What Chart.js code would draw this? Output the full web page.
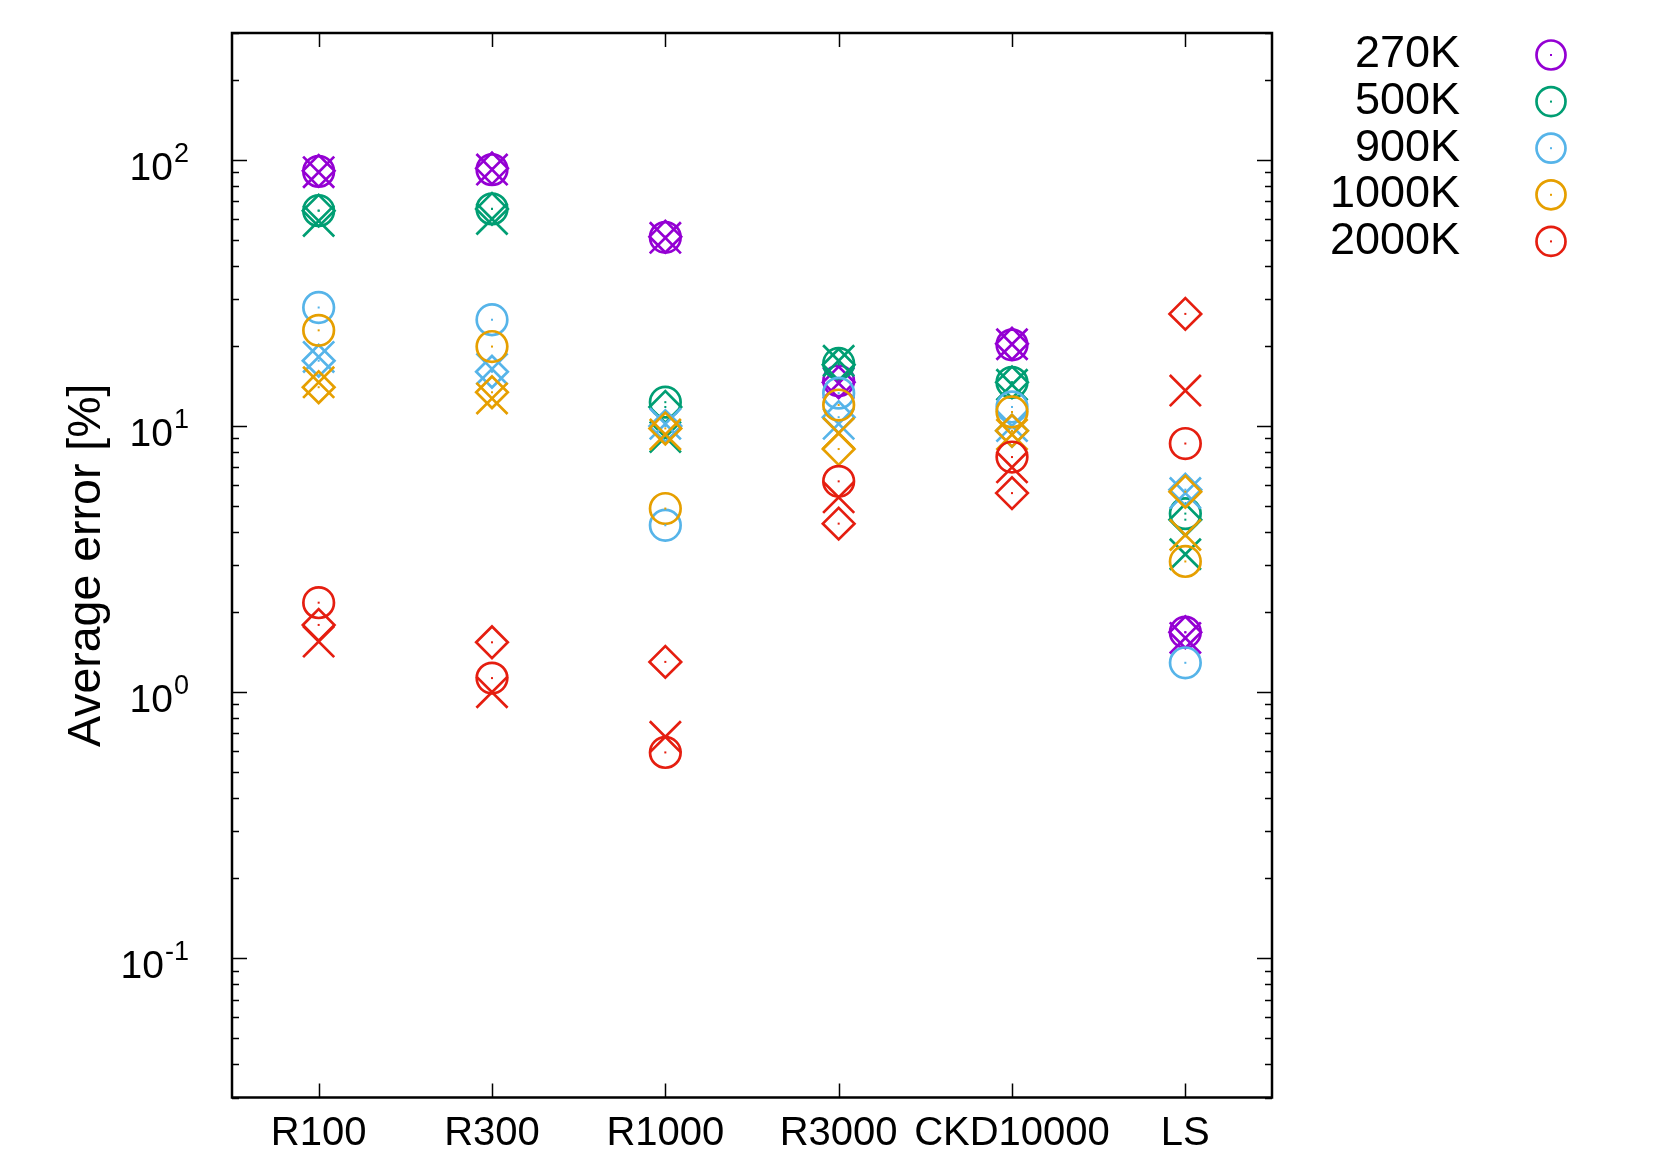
<!DOCTYPE html>
<html>
<head>
<meta charset="utf-8">
<title>Average error</title>
<script src="https://cdn.jsdelivr.net/npm/chart.js@4.4.1/dist/chart.umd.min.js"></script>
<style>
  html, body { margin: 0; padding: 0; background: #fff; }
  canvas { display: block; }
</style>
</head>
<body>
<canvas id="errorChart" width="1661" height="1163"></canvas>
<script>
const categories = ["R100", "R300", "R1000", "R3000", "CKD10000", "LS"]
const temperatures = ["270K", "500K", "900K", "1000K", "2000K"]
const colors = ["#9400d3", "#009e73", "#56b4e9", "#e69f00", "#e51e10"]
const yTickValues = [0.1, 1, 10, 100]
const yTickExponents = ["-1", "0", "1", "2"]

// open circles (these are the ones in the key)
const circle270 = [90.6, 92, 51.2, 14.8, 20.2, 1.68]
const circle500 = [64.5, 65.5, 12.3, 17.2, 14.6, 4.69]
const circle900 = [27.9, 25.1, 4.24, 13.3, 11.8, 1.29]
const circle1000 = [22.9, 19.9, 4.9, 12.0, 11.3, 3.1]
const circle2000 = [2.17, 1.13, 0.594, 6.2, 7.65, 8.6]

// crosses
const cross270 = [90, 92, 51, 14.5, 20.3, 1.6]
const cross500 = [59, 60, 9.1, 17.6, 14.3, 3.3]
const cross900 = [18.2, 16.4, 10.2, 10.2, 10.0, 5.6]
const cross1000 = [14.6, 12.7, 9.3, 9.4, 9.3, 3.9]
const cross2000 = [1.55, 1.0, 0.68, 5.4, 7.0, 13.6]

// diamonds
const diamond270 = [91, 93, 51.5, 14.6, 20.4, 1.68]
const diamond500 = [64.5, 65.5, 11.8, 17.0, 14.6, 4.45]
const diamond900 = [17.6, 16.0, 10.0, 10.8, 9.6, 5.77]
const diamond1000 = [14.0, 13.4, 9.8, 8.2, 9.6, 5.67]
const diamond2000 = [1.79, 1.54, 1.3, 4.3, 5.6, 26.4]

const circleSeries = [circle270, circle500, circle900, circle1000, circle2000]
const crossSeries = [cross270, cross500, cross900, cross1000, cross2000]
const diamondSeries = [diamond270, diamond500, diamond900, diamond1000, diamond2000]

const FONT = "'Liberation Sans', Arial, Helvetica, sans-serif"
const LINE = 2.7

function makeDataset(values, i, style, radius, label) {
  return {
    label,
    data: values,
    showLine: false,
    borderColor: colors[i],
    backgroundColor: "transparent",
    pointStyle: style,
    pointRadius: radius,
    pointHoverRadius: radius,
    pointBorderWidth: LINE,
    pointHoverBorderWidth: LINE,
    pointBorderColor: colors[i],
    pointBackgroundColor: "transparent",
  }
}

const datasets = []
temperatures.forEach((t, i) => {
  datasets.push(makeDataset(circleSeries[i], i, "circle", 15.3, t))
  datasets.push(makeDataset(crossSeries[i], i, "crossRot", 22, t + " x"))
  datasets.push(makeDataset(diamondSeries[i], i, "rectRot", 15.8, t + " d"))
})
// later series on top, as in the original plot
datasets.forEach((d, i) => { d.order = -i })

// small dot in the middle of circles and diamonds
const centreDots = {
  id: "centreDots",
  afterDatasetsDraw(chart) {
    const ctx = chart.ctx
    ctx.save()
    chart.data.datasets.forEach((ds, i) => {
      if (ds.pointStyle === "crossRot") return
      ctx.fillStyle = ds.borderColor
      chart.getDatasetMeta(i).data.forEach((pt) => {
        ctx.fillRect(pt.x - 1, pt.y - 1, 2, 2)
      })
    })
    ctx.restore()
  },
}

// gnuplot style frame with inward ticks on all four sides
const frameAndTicks = {
  id: "frameAndTicks",
  afterDatasetsDraw(chart) {
    const { ctx, chartArea: a, scales } = chart
    const y = scales.y
    const x = scales.x
    ctx.save()
    ctx.strokeStyle = "#000"
    ctx.lineWidth = 1.5
    ctx.beginPath()
    for (let d = -2; d <= 2; d++) {
      for (let m = 1; m <= 9; m++) {
        const v = m * Math.pow(10, d)
        if (v < y.min * 0.999 || v > y.max * 1.001) continue
        const py = Math.round(y.getPixelForValue(v)) + 0.5
        const len = m === 1 ? 15 : 7
        ctx.moveTo(a.left, py)
        ctx.lineTo(a.left + len, py)
        ctx.moveTo(a.right, py)
        ctx.lineTo(a.right - len, py)
      }
    }
    categories.forEach((c, i) => {
      const px = Math.round(x.getPixelForValue(i)) + 0.5
      ctx.moveTo(px, a.bottom)
      ctx.lineTo(px, a.bottom - 14)
      ctx.moveTo(px, a.top)
      ctx.lineTo(px, a.top + 14)
    })
    ctx.stroke()
    ctx.lineWidth = 2.5
    ctx.strokeRect(a.left, a.top, a.right - a.left, a.bottom - a.top)

    // y tick labels as 10 with a raised exponent
    ctx.fillStyle = "#000"
    ctx.textAlign = "left"
    ctx.textBaseline = "alphabetic"
    yTickValues.forEach((v, k) => {
      const py = y.getPixelForValue(v)
      const exp = yTickExponents[k]
      ctx.font = "39px " + FONT
      const wBase = ctx.measureText("10").width
      ctx.font = "27px " + FONT
      const wExp = ctx.measureText(exp).width
      const x0 = 189 - wBase - wExp - 1
      ctx.font = "39px " + FONT
      ctx.fillText("10", x0, py + 20)
      ctx.font = "27px " + FONT
      ctx.fillText(exp, x0 + wBase + 1, py + 2)
    })
    ctx.restore()
  },
}

// key outside the plot, right aligned text then the marker
const keyBox = {
  id: "keyBox",
  afterDraw(chart) {
    const ctx = chart.ctx
    const entries = chart.data.datasets.filter((d) => d.pointStyle === "circle")
    ctx.save()
    ctx.font = "45px " + FONT
    ctx.textAlign = "right"
    ctx.textBaseline = "middle"
    entries.forEach((d, i) => {
      const yy = 55 + i * 46.6
      ctx.fillStyle = "#000"
      ctx.fillText(d.label, 1460, yy)
      ctx.strokeStyle = d.borderColor
      ctx.lineWidth = LINE
      ctx.beginPath()
      ctx.arc(1551, yy, 14.5, 0, 2 * Math.PI)
      ctx.stroke()
      ctx.fillStyle = d.borderColor
      ctx.fillRect(1550, yy - 1, 2, 2)
    })
    ctx.restore()
  },
}

new Chart(document.getElementById("errorChart"), {
  type: "line",
  data: { labels: categories, datasets },
  options: {
    responsive: false,
    animation: false,
    devicePixelRatio: 1,
    layout: { padding: { left: 0, right: 389, top: 33, bottom: 0 } },
    plugins: {
      legend: { display: false },
      tooltip: { enabled: false },
    },
    scales: {
      x: {
        type: "category",
        offset: true,
        grid: { display: false, drawTicks: false },
        border: { display: false },
        afterFit: (scale) => {
          scale.height = 65.5
          scale.paddingLeft = 0
          scale.paddingRight = 0
        },
        ticks: {
          color: "#000",
          font: { family: FONT, size: 40 },
          padding: 12,
          maxRotation: 0,
          autoSkip: false,
        },
      },
      y: {
        type: "logarithmic",
        min: 0.03,
        max: 300,
        grid: { display: false, drawTicks: false },
        border: { display: false },
        afterBuildTicks: (scale) => {
          scale.ticks = yTickValues.map((v) => ({ value: v }))
        },
        afterFit: (scale) => {
          scale.width = 232
          scale.paddingTop = 0
          scale.paddingBottom = 0
        },
        ticks: { display: false },
        title: {
          display: true,
          text: "Average error [%]",
          color: "#000",
          font: { family: FONT, size: 46.5 },
          padding: { top: 59, bottom: 0 },
        },
      },
    },
  },
  plugins: [centreDots, frameAndTicks, keyBox],
})
</script>
</body>
</html>
